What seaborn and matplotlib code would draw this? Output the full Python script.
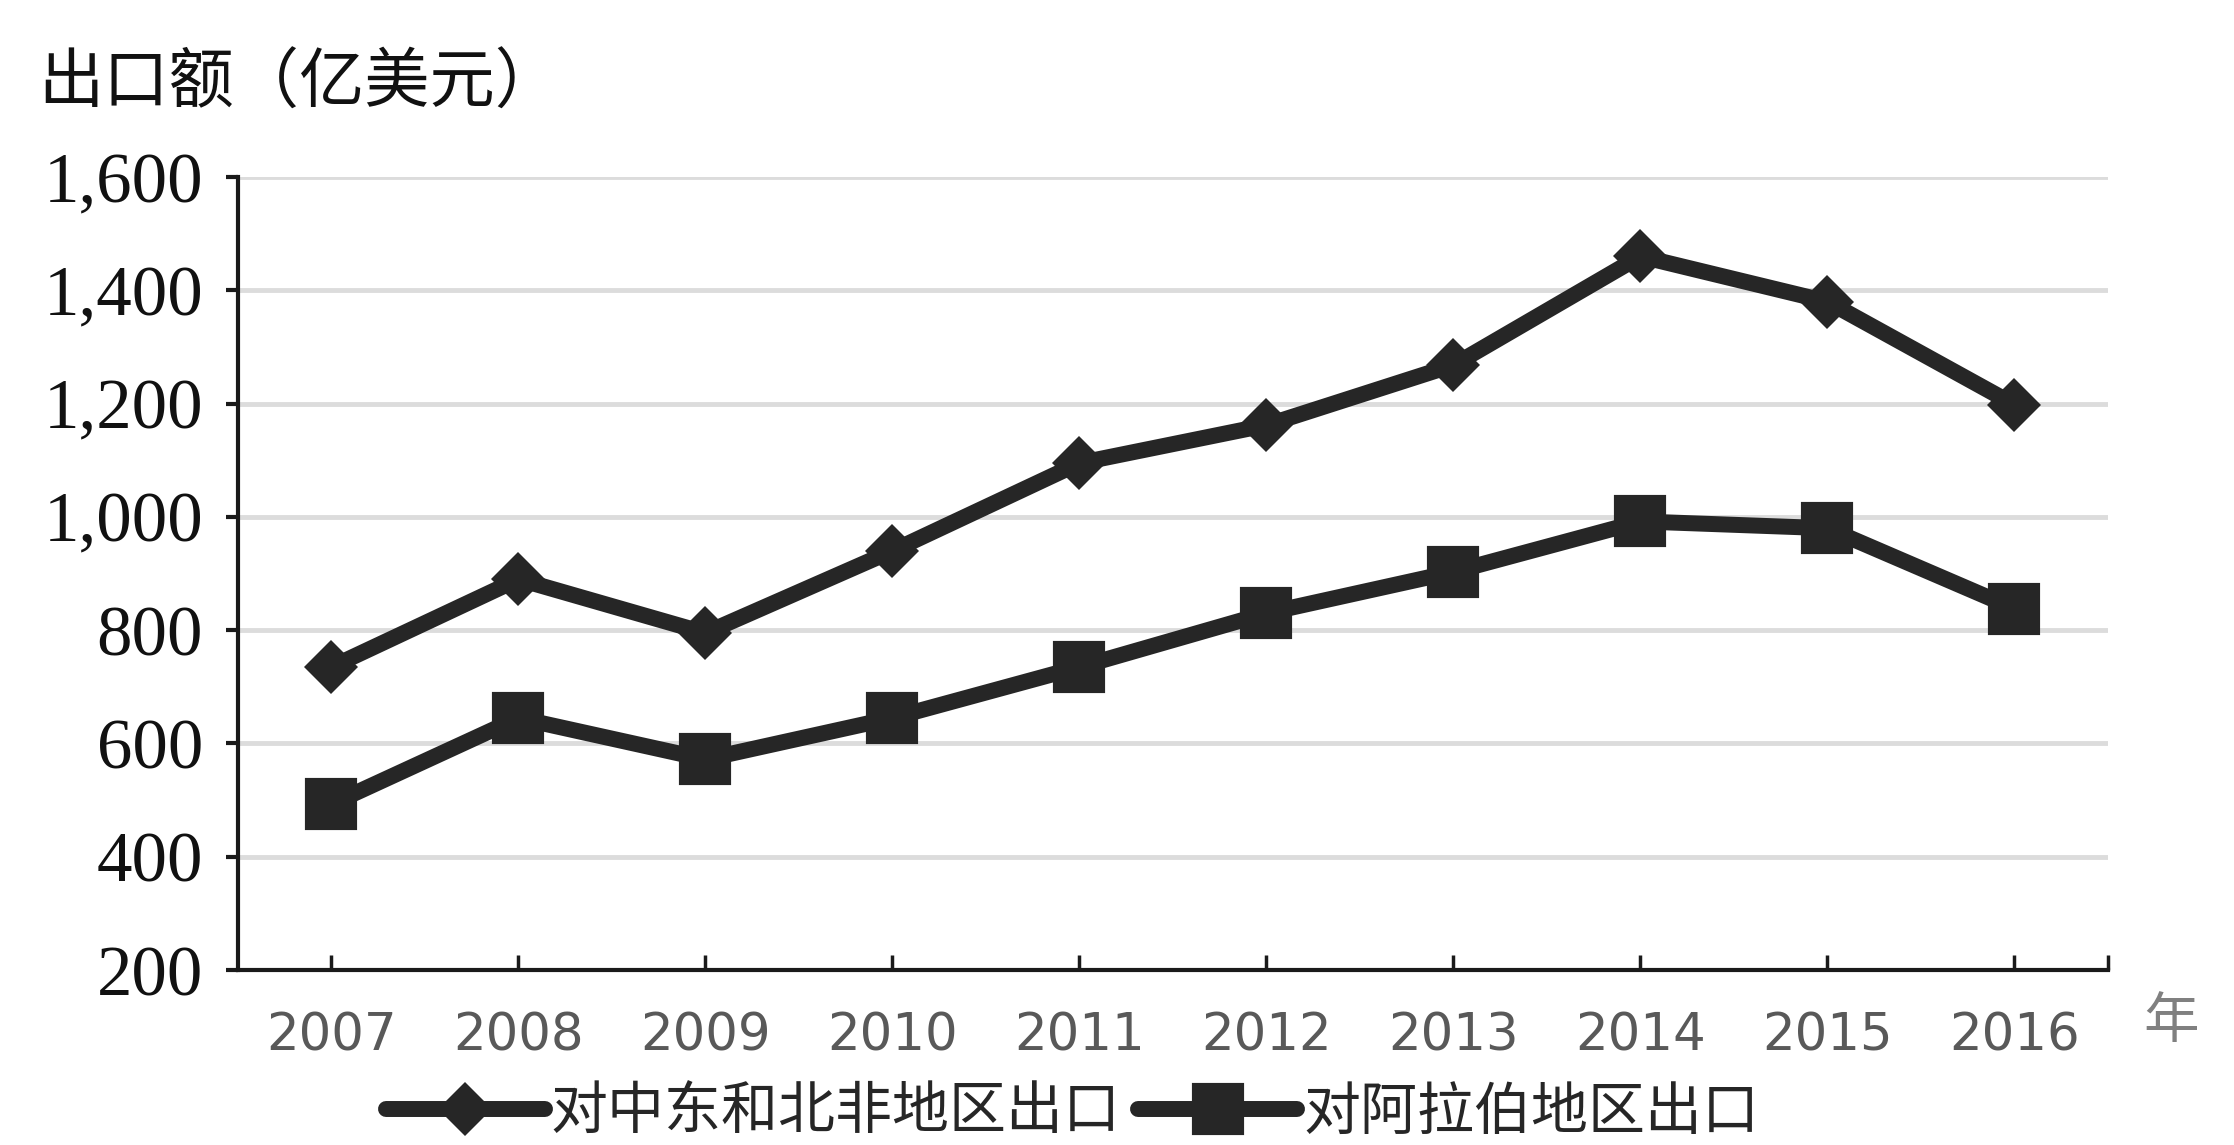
import numpy as np
import pandas as pd
import matplotlib
matplotlib.use("Agg")
import matplotlib.pyplot as plt
import seaborn as sns

# 中国对中东北非 / 阿拉伯地区出口额（亿美元）
years = ['2007', '2008', '2009', '2010', '2011', '2012', '2013', '2014', '2015', '2016']
mena_export = [735, 890, 795, 940, 1095, 1162, 1268, 1460, 1380, 1198]
arab_export = [493, 645, 572, 645, 735, 830, 903, 992, 980, 838]
series_names = ['对中东和北非地区出口', '对阿拉伯地区出口']
y_ticks = [200, 400, 600, 800, 1000, 1200, 1400, 1600]

sns.set_style('white')
plt.rcParams['font.family'] = ['Noto Sans CJK SC', 'DejaVu Sans']

dark = '#262626'

df_mena = pd.DataFrame({'年份': years, '出口额': mena_export})
df_arab = pd.DataFrame({'年份': years, '出口额': arab_export})

fig = plt.figure(figsize=(22.34, 11.45), dpi=100)
ax = fig.add_axes([0.1065, 0.1528, 0.8371, 0.6926])

sns.lineplot(data=df_mena, x='年份', y='出口额', ax=ax, color=dark, linewidth=11.5,
             marker='D', markersize=27, markeredgewidth=0, label=series_names[0])
sns.lineplot(data=df_arab, x='年份', y='出口额', ax=ax, color=dark, linewidth=11.5,
             marker='s', markersize=35, markeredgewidth=3, markeredgecolor=dark,
             label=series_names[1])
for ln in ax.get_lines():
    ln.set_markeredgecolor(dark)
    ln.set_solid_joinstyle('round')

ax.set_xlim(-0.5, 9.5)
ax.set_ylim(200, 1600)
ax.set_yticks(y_ticks)
ax.set_yticklabels([f'{v:,}' for v in y_ticks], family='Liberation Serif', fontsize=51, color='#111111')
ax.set_xticks(range(len(years)))
ax.set_xticklabels(years, family='DejaVu Sans', fontsize=37, color='#595959')
ax.set_xticks([9.5], minor=True)

ax.set_xlabel('')
ax.set_ylabel('')

ax.yaxis.grid(True, color='#dcdcdc', linewidth=3.5)
ax.xaxis.grid(False)
ax.set_axisbelow(True)

for side in ['top', 'right']:
    ax.spines[side].set_visible(False)
for side in ['left', 'bottom']:
    ax.spines[side].set_color('#1a1a1a')
    ax.spines[side].set_linewidth(3)

ax.tick_params(axis='y', which='major', direction='out', length=9, width=3, pad=16, color='#1a1a1a', left=True)
ax.tick_params(axis='x', which='both', direction='in', length=11, width=2.5, pad=30, color='#1a1a1a', bottom=True)

ax.get_legend().remove()
handles, labels = ax.get_legend_handles_labels()
fig.legend(handles, labels, loc='center', bbox_to_anchor=(0.48, 0.028), ncol=2, frameon=False,
           fontsize=41, handlelength=2.8, handletextpad=0.1, columnspacing=0.3)

fig.text(0.017, 0.926, '出口额（亿美元）', fontsize=47, color='#111111', va='center', ha='left')
fig.text(0.972, 0.107, '年', fontsize=40, color='#808080', va='center', ha='center')

fig.savefig('out.png', dpi=100)
